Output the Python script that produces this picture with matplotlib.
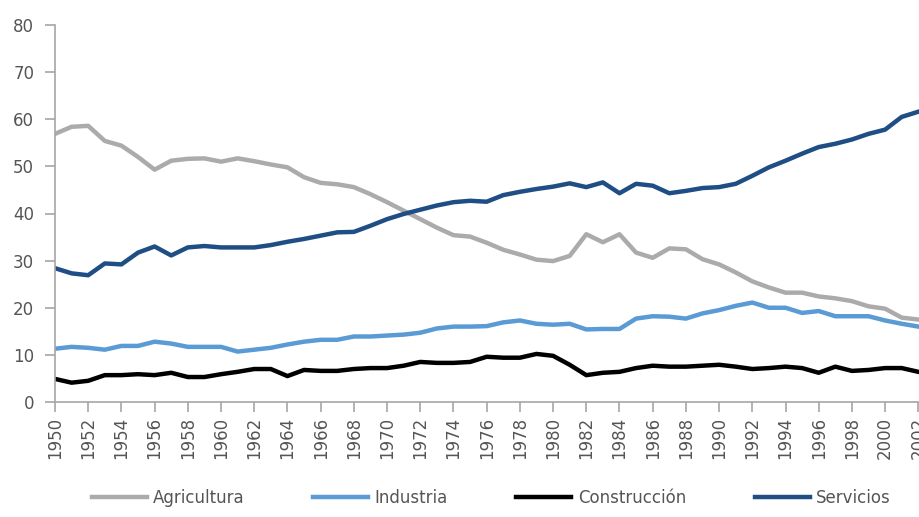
import numpy as np
import matplotlib.pyplot as plt

years = np.arange(1950, 2003)

agricultura = [56.9, 58.4, 58.6, 55.4, 54.4, 52.0, 49.3, 51.2, 51.6, 51.7,
               51.0, 51.7, 51.1, 50.4, 49.8, 47.7, 46.5, 46.2, 45.6, 44.1,
               42.4, 40.6, 38.8, 37.0, 35.4, 35.1, 33.8, 32.3, 31.3, 30.2,
               29.9, 31.0, 35.6, 33.9, 35.6, 31.7, 30.6, 32.6, 32.4, 30.3,
               29.2, 27.5, 25.6, 24.3, 23.2, 23.2, 22.4, 22.0, 21.4, 20.3,
               19.8, 17.9, 17.5]

industria = [11.3, 11.7, 11.5, 11.1, 11.9, 11.9, 12.8, 12.4, 11.7, 11.7,
             11.7, 10.7, 11.1, 11.5, 12.2, 12.8, 13.2, 13.2, 13.9, 13.9,
             14.1, 14.3, 14.7, 15.6, 16.0, 16.0, 16.1, 16.9, 17.3, 16.6,
             16.4, 16.6, 15.4, 15.5, 15.5, 17.7, 18.2, 18.1, 17.7, 18.8,
             19.5, 20.4, 21.1, 20.0, 20.0, 18.9, 19.3, 18.2, 18.2, 18.2,
             17.3, 16.6, 16.0]

construccion = [4.9, 4.1, 4.5, 5.7, 5.7, 5.9, 5.7, 6.2, 5.3, 5.3,
                5.9, 6.4, 7.0, 7.0, 5.5, 6.8, 6.6, 6.6, 7.0, 7.2,
                7.2, 7.7, 8.5, 8.3, 8.3, 8.5, 9.6, 9.4, 9.4, 10.2,
                9.8, 7.9, 5.7, 6.2, 6.4, 7.2, 7.7, 7.5, 7.5, 7.7,
                7.9, 7.5, 7.0, 7.2, 7.5, 7.2, 6.2, 7.5, 6.6, 6.8,
                7.2, 7.2, 6.4]

servicios = [28.4, 27.3, 26.9, 29.4, 29.2, 31.7, 33.0, 31.1, 32.8, 33.1,
             32.8, 32.8, 32.8, 33.3, 34.0, 34.6, 35.3, 36.0, 36.1, 37.4,
             38.8, 39.9, 40.8, 41.7, 42.4, 42.7, 42.5, 43.9, 44.6, 45.2,
             45.7, 46.4, 45.6, 46.6, 44.3, 46.3, 45.9, 44.3, 44.8, 45.4,
             45.6, 46.3, 48.0, 49.8, 51.2, 52.7, 54.1, 54.8, 55.7, 56.9,
             57.8, 60.5, 61.6]

labels = ['Agricultura', 'Industria', 'Construcción', 'Servicios']
colors = ['#ababab', '#5b9bd5', '#000000', '#1f4e85']

txt = '#555555'
axc = '#a6a6a6'

fig = plt.figure(figsize=(9.2, 5.17), dpi=100)
ax = fig.add_axes([55/920, 115/517, 865/920, 377/517])

for vals, lab, c in zip([agricultura, industria, construccion, servicios], labels, colors):
    ax.plot(years, vals, color=c, lw=3.2, label=lab, solid_joinstyle='round')

ax.set_xlim(1950, 2002.1)
ax.set_ylim(0, 80)
ax.set_yticks(np.arange(0, 81, 10))
ax.set_xticks(np.arange(1950, 2003, 2))
ax.set_xticklabels([str(y) for y in range(1950, 2003, 2)], rotation=90)

for s in ['top', 'right']:
    ax.spines[s].set_visible(False)
for s in ['left', 'bottom']:
    ax.spines[s].set_color(axc)
    ax.spines[s].set_linewidth(1.2)
ax.tick_params(axis='both', colors=axc, labelcolor=txt, labelsize=12, length=7, width=1.2)
ax.tick_params(axis='y', pad=8)

fig.legend(loc='lower center', bbox_to_anchor=(0.534, -0.01), ncol=4, frameon=False,
           fontsize=12, handlelength=3.3, columnspacing=4.1, labelcolor=txt,
           handletextpad=0.4)

fig.savefig('out.png', dpi=100)
